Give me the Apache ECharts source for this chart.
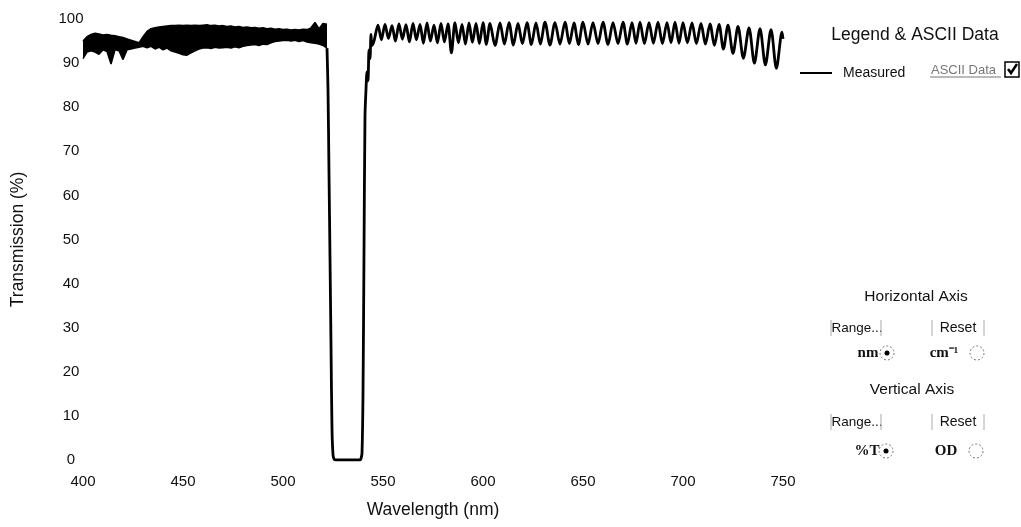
<!DOCTYPE html>
<html>
<head>
<meta charset="utf-8">
<script src="https://cdn.jsdelivr.net/npm/echarts@6/dist/echarts.min.js"></script>
<style>
html,body{margin:0;padding:0;background:#fff;}
#chart{width:1021px;height:527px;}
</style>
</head>
<body>
<div id="chart"></div>
<script>
// ---- Data ----
const xTicks = [400, 450, 500, 550, 600, 650, 700, 750];
const yTicks = [0, 10, 20, 30, 40, 50, 60, 70, 80, 90, 100];

// 400-522 nm: very fast fringes that render as a solid band.
// Upper and lower edges of that band, sampled every 2 nm from 400 nm.
const bandStart = 400;
const bandStep = 2;
const bandUpper = [
  95.0, 96.0, 96.5, 96.8, 96.6, 96.4, 96.5, 96.3, 96.2, 96.0,
  95.8, 95.5, 95.2, 94.9, 94.6, 96.0, 97.2, 97.8, 98.0, 98.2,
  98.3, 98.4, 98.5, 98.5, 98.6, 98.5, 98.6, 98.5, 98.6, 98.5,
  98.6, 98.7, 98.5, 98.6, 98.4, 98.5, 98.3, 98.4, 98.2, 98.3,
  98.1, 98.2, 98.0, 98.1, 97.9, 98.0, 97.8, 97.9, 97.7, 97.8,
  97.6, 97.7, 97.5, 97.6, 97.5, 97.7, 97.6, 98.0, 99.2, 97.8,
  99.0, 98.8
];
const bandLower = [
  91.0, 92.5, 92.8, 92.5, 92.0, 93.0, 92.6, 89.8, 93.0, 92.8,
  90.8, 93.0, 93.2, 93.4, 93.6, 93.8, 93.5, 93.8, 93.2, 93.6,
  93.0, 93.4, 92.8, 92.5, 92.2, 91.9, 91.8, 92.3, 92.8, 93.2,
  93.4, 93.5, 93.3, 93.6, 93.4, 93.5, 93.6, 93.4, 93.7, 93.5,
  93.8, 94.0, 94.1, 94.2, 94.0, 94.3, 94.2, 94.6, 94.9, 95.0,
  95.1, 95.2, 95.0, 95.2, 94.9, 95.1, 94.8, 94.6, 94.5, 94.3,
  94.0, 93.4
];

// Notch (blocking band) edges [nm, %T]
const notchPoints = [
  [522, 93.4], [522.5, 84], [523, 65], [523.5, 46], [524, 26], [524.5, 7], [525, 1.2], [525.5, 0.2],
  [526, 0], [530, 0], [535, 0], [538.5, 0], [539, 0.3], [539.5, 1.5], [540, 15],
  [540.5, 47], [541, 78], [541.5, 84], [542, 88], [542.5, 86], [543, 93], [543.5, 91],
  [544, 96.5], [544.5, 94]
];

// Interference fringes beyond the notch [nm, %T] (peaks and troughs)
const fringePoints = [
  [545.5, 95.0], [547.5, 98.6], [549.2, 95.3], [551, 98.8], [552.7, 95.6], [554.5, 98.5],
  [556.2, 95.0], [558, 98.9], [559.7, 95.4], [561.5, 98.7], [563.2, 94.8], [565, 99.0],
  [566.7, 95.3], [568.5, 98.8], [570.2, 94.5], [572, 99.1], [573.7, 95.0], [575.5, 98.6],
  [577.2, 94.6], [579, 99.0], [580.7, 94.8], [582.5, 98.9], [584.2, 92.3], [586, 99.2],
  [587.7, 94.6], [589.5, 98.8], [591.2, 94.3], [593, 99.1], [594.7, 94.7], [596.5, 99.0],
  [598.2, 94.4], [600, 99.2], [601.7, 94.2], [603.5, 99.0], [606, 94.0], [608.5, 99.1],
  [610.7, 94.3], [613, 99.2], [615.2, 94.1], [617.5, 99.0], [619.7, 94.4], [622, 99.2],
  [624.2, 94.2], [626.5, 99.1], [628.7, 94.3], [631, 99.3], [633.5, 94.1], [636, 99.2],
  [638.5, 94.3], [641, 99.3], [643.2, 94.4], [645.5, 99.1], [647.7, 94.2], [650, 99.3],
  [652.5, 94.3], [655, 99.2], [657.5, 94.4], [660, 99.3], [662.5, 94.2], [665, 99.2],
  [667.5, 94.4], [670, 99.3], [672.2, 94.3], [674.5, 99.2], [676.5, 94.5], [678.5, 99.3],
  [680.7, 94.4], [683, 99.2], [685.2, 94.5], [687.5, 99.3], [689.7, 94.4], [692, 99.2],
  [694, 94.6], [696, 99.3], [698, 94.5], [700, 99.2], [702.2, 94.6], [704.5, 99.1],
  [706.7, 94.4], [709, 99.0], [711.2, 94.3], [713.5, 98.9], [715.7, 94.0], [718, 98.8],
  [720.2, 93.2], [722.5, 98.6], [725, 92.2], [727.5, 98.3], [730.2, 91.1], [733, 98.0],
  [735.7, 90.0], [738.5, 97.8], [741.2, 89.6], [744, 97.6], [746.7, 88.8], [749.5, 97.0],
  [750, 95.5]
];

// ---- Build series data ----
const upperData = bandUpper.map(function (v, i) { return [bandStart + i * bandStep, v]; });
const lowerData = bandLower.map(function (v, i) { return [bandStart + i * bandStep, v]; });
const restData = notchPoints.concat(fringePoints);

const FONT = "'Liberation Sans', Arial, sans-serif";
const SERIF = "'Liberation Serif', 'Times New Roman', serif";

function radio(cx, cy, selected) {
  const els = [{
    type: 'circle', shape: { cx: cx, cy: cy, r: 7 },
    style: { fill: 'none', stroke: '#777', lineWidth: 1, lineDash: [2, 2] }
  }];
  if (selected) {
    els.push({ type: 'circle', shape: { cx: cx, cy: cy, r: 2.5 }, style: { fill: '#000' } });
  }
  return els;
}
function bracket(x, y) {
  return { type: 'line', shape: { x1: x, y1: y - 8, x2: x, y2: y + 8 }, style: { stroke: '#aaa', lineWidth: 1 } };
}
function txt(x, y, text, size, opts) {
  return {
    type: 'text', x: x, y: y,
    style: Object.assign({ text: text, fontSize: size, fontFamily: FONT, fill: '#111', align: 'center', verticalAlign: 'middle' }, opts || {})
  };
}

const graphics = [
  txt(915, 35, 'Legend & ASCII Data', 17.5),
  txt(931, 70, 'ASCII Data', 13, { align: 'left', fill: '#777' }),
  { type: 'line', shape: { x1: 930, y1: 77, x2: 1001, y2: 77 }, style: { stroke: '#777', lineWidth: 1 } },
  { type: 'rect', shape: { x: 1005, y: 62, width: 14, height: 15 }, style: { fill: '#fff', stroke: '#000', lineWidth: 1.5 } },
  { type: 'polyline', shape: { points: [[1008, 69], [1011, 73], [1017, 64]] }, style: { stroke: '#000', lineWidth: 2.5, fill: 'none' } },

  txt(916, 297, 'Horizontal Axis', 15.5),
  txt(857, 328, 'Range...', 13.5), bracket(831, 328), bracket(881, 328),
  txt(958, 328, 'Reset', 14), bracket(932, 328), bracket(984, 328),
  txt(868, 353, 'nm', 15, { fontFamily: SERIF, fontWeight: 'bold' }),
  txt(944, 353, 'cm\u207B\u00B9', 15, { fontFamily: SERIF, fontWeight: 'bold' }),

  txt(912, 390, 'Vertical Axis', 15.5),
  txt(857, 422, 'Range...', 13.5), bracket(831, 422), bracket(881, 422),
  txt(958, 422, 'Reset', 14), bracket(932, 422), bracket(984, 422),
  txt(867, 451, '%T', 15, { fontFamily: SERIF, fontWeight: 'bold' }),
  txt(946, 451, 'OD', 15, { fontFamily: SERIF, fontWeight: 'bold' })
].concat(radio(887, 353, true), radio(977, 353, false), radio(886, 451, true), radio(976, 451, false));

const chart = echarts.init(document.getElementById('chart'), null, { renderer: 'canvas' });
chart.setOption({
  animation: false,
  backgroundColor: '#fff',
  grid: { left: 83, right: 238, top: 19, bottom: 67 },
  legend: {
    data: ['Measured'],
    left: 795, top: 61,
    icon: 'rect', itemWidth: 32, itemHeight: 2, itemGap: 10,
    itemStyle: { color: '#000' },
    textStyle: { fontSize: 14, fontFamily: FONT, color: '#111', padding: [0, 0, 0, 6] }
  },
  xAxis: {
    type: 'value', min: xTicks[0], max: xTicks[xTicks.length - 1], interval: 50,
    name: 'Wavelength (nm)', nameLocation: 'middle', nameGap: 41,
    nameTextStyle: { fontSize: 17.5, fontFamily: FONT, color: '#111' },
    axisLine: { show: false }, axisTick: { show: false }, splitLine: { show: false },
    axisLabel: { margin: 14, fontSize: 15, fontFamily: FONT, color: '#111' }
  },
  yAxis: {
    type: 'value', min: yTicks[0], max: yTicks[yTicks.length - 1], interval: 10,
    name: 'Transmission (%)', nameLocation: 'middle', nameGap: 56,
    nameTextStyle: { fontSize: 17.5, fontFamily: FONT, color: '#111' },
    axisLine: { show: false }, axisTick: { show: false }, splitLine: { show: false },
    axisLabel: { margin: 12, align: 'center', fontSize: 15, fontFamily: FONT, color: '#111' }
  },
  series: [{
    name: 'Measured', type: 'line', data: upperData,
    showSymbol: false, smooth: false,
    lineStyle: { color: '#000', width: 1.5 },
    itemStyle: { color: '#000' },
    areaStyle: { color: '#000', opacity: 1 }
  }, {
    name: 'Measured', type: 'line', data: lowerData,
    showSymbol: false, smooth: false,
    lineStyle: { color: '#000', width: 1.5 },
    itemStyle: { color: '#000' },
    areaStyle: { color: '#fff', opacity: 1 }
  }, {
    name: 'Measured', type: 'line', data: restData,
    showSymbol: false, smooth: 0.3,
    lineStyle: { color: '#000', width: 2.8 },
    itemStyle: { color: '#000' }
  }],
  graphic: graphics
});
</script>
</body>
</html>
